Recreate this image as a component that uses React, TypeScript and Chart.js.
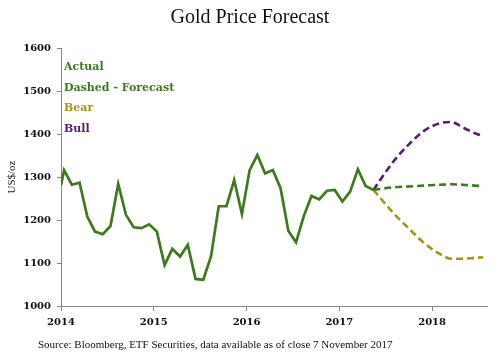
import React, { useEffect, useRef } from "react";
import { Chart, registerables } from "chart.js";

Chart.register(...registerables);

// Months since Jan 2014
const actualMonths = [0, 0.4, 1.4, 2.4, 3.4, 4.4, 5.4, 6.4, 7.4, 8.4, 9.4, 10.4, 11.4, 12.4, 13.4, 14.4, 15.4, 16.4, 17.4, 18.4, 19.4, 20.4, 21.4, 22.4, 23.4, 24.4, 25.4, 26.4, 27.4, 28.4, 29.4, 30.4, 31.4, 32.4, 33.4, 34.4, 35.4, 36.4, 37.4, 38.4, 39.4, 40.4];
const actualValues = [1281, 1316, 1282, 1287, 1208, 1173, 1167, 1186, 1284, 1212, 1183, 1181, 1190, 1173, 1095, 1133, 1115, 1142, 1063, 1061, 1115, 1232, 1232, 1293, 1214, 1316, 1351, 1308, 1316, 1274, 1175, 1148, 1209, 1256, 1248, 1268, 1270, 1243, 1266, 1318, 1279, 1270];

const forecastMonths = [40.4, 43, 45, 47, 49, 50.5, 52, 53.5, 54.6];
const baseValues = [1270, 1276, 1278, 1280, 1282, 1283, 1282, 1280, 1279];
const bearValues = [1270, 1216, 1180, 1146, 1121, 1110, 1110, 1112, 1113];
const bullValues = [1270, 1336, 1376, 1408, 1425, 1428, 1415, 1402, 1395];

const yearTickValues = [0, 12, 24, 36, 48];
const yearLabels = ["2014", "2015", "2016", "2017", "2018"];

const legendNames = ["Actual", "Dashed - Forecast", "Bear", "Bull"];

const TITLE = "Gold Price Forecast";
const SOURCE = "Source: Bloomberg, ETF Securities, data available as of close 7 November 2017";

const GREEN = "#3c7a1c";
const OLIVE = "#a8930f";
const PURPLE = "#5a1a78";
const legendColors = [GREEN, GREEN, OLIVE, PURPLE];

const SERIF = "'Liberation Serif', 'DejaVu Serif', serif";
const WIDE_SERIF = "'DejaVu Serif', 'Liberation Serif', serif";

const toPoints = (xs: number[], ys: number[]) => xs.map((x, i) => ({ x, y: ys[i] }));

export default function App() {
  const ref = useRef<HTMLCanvasElement | null>(null);

  useEffect(() => {
    if (!ref.current) return;
    const textPlugin = {
      id: "texts",
      afterDraw(chart: any) {
        const ctx = chart.ctx;
        const area = chart.chartArea;
        ctx.save();
        ctx.fillStyle = "#111";
        ctx.font = `20px ${SERIF}`;
        ctx.textAlign = "center";
        ctx.textBaseline = "middle";
        ctx.fillText(TITLE, 250, 18);
        ctx.font = `11px ${SERIF}`;
        ctx.textAlign = "left";
        ctx.fillText(SOURCE, 38, 345);
        ctx.font = `bold 11px ${WIDE_SERIF}`;
        legendNames.forEach((name, i) => {
          ctx.fillStyle = legendColors[i];
          ctx.fillText(name, area.left + 3, area.top + 19 + i * 20.8);
        });
        ctx.restore();
      },
    };

    const chart = new Chart(ref.current, {
      type: "line",
      data: {
        datasets: [
          {
            label: "Actual",
            data: toPoints(actualMonths, actualValues),
            borderColor: GREEN,
            borderWidth: 2.7,
            pointRadius: 0,
            tension: 0,
          },
          {
            label: "Dashed - Forecast",
            data: toPoints(forecastMonths, baseValues),
            borderColor: GREEN,
            borderWidth: 2.6,
            borderDash: [7, 4],
            pointRadius: 0,
            cubicInterpolationMode: "monotone",
          },
          {
            label: "Bear",
            data: toPoints(forecastMonths, bearValues),
            borderColor: OLIVE,
            borderWidth: 2.6,
            borderDash: [7, 4],
            pointRadius: 0,
            cubicInterpolationMode: "monotone",
          },
          {
            label: "Bull",
            data: toPoints(forecastMonths, bullValues),
            borderColor: PURPLE,
            borderWidth: 2.6,
            borderDash: [7, 4],
            pointRadius: 0,
            cubicInterpolationMode: "monotone",
          },
        ],
      },
      options: {
        animation: false,
        responsive: false,
        devicePixelRatio: 1,
        layout: { padding: { left: 0, right: 13, top: 48, bottom: 0 } },
        plugins: {
          legend: { display: false },
          title: { display: false },
          tooltip: { enabled: false },
        },
        scales: {
          x: {
            type: "linear",
            min: 0,
            max: 55.1,
            afterBuildTicks: (s: any) => {
              s.ticks = yearTickValues.map((v) => ({ value: v }));
            },
            afterFit: (s: any) => {
              s.height = 47;
            },
            ticks: {
              autoSkip: false,
              maxRotation: 0,
              padding: 5,
              color: "#111",
              font: { family: WIDE_SERIF, size: 10, weight: "bold" },
              callback: (v: any) => {
                const i = yearTickValues.indexOf(Number(v));
                return i >= 0 ? yearLabels[i] : "";
              },
            },
            grid: { drawOnChartArea: false, tickLength: 5, color: "#888" },
            border: { color: "#888", width: 1 },
          },
          y: {
            min: 1000,
            max: 1600,
            afterFit: (s: any) => {
              s.width = 61;
            },
            ticks: {
              stepSize: 100,
              padding: 6,
              color: "#111",
              font: { family: WIDE_SERIF, size: 10, weight: "bold" },
              callback: (v: any) => String(v),
            },
            title: {
              display: true,
              text: "US$/oz",
              color: "#222",
              padding: { top: 6, bottom: 0 },
              font: { family: SERIF, size: 11 },
            },
            grid: { drawOnChartArea: false, tickLength: 4, color: "#888" },
            border: { color: "#888", width: 1 },
          },
        },
      },
      plugins: [textPlugin],
    } as any);
    return () => chart.destroy();
  }, []);

  return (
    <div style={{ position: "fixed", left: 0, top: 0, width: 500, height: 353, background: "#fff" }}>
      <canvas ref={ref} width={500} height={353} />
    </div>
  );
}
